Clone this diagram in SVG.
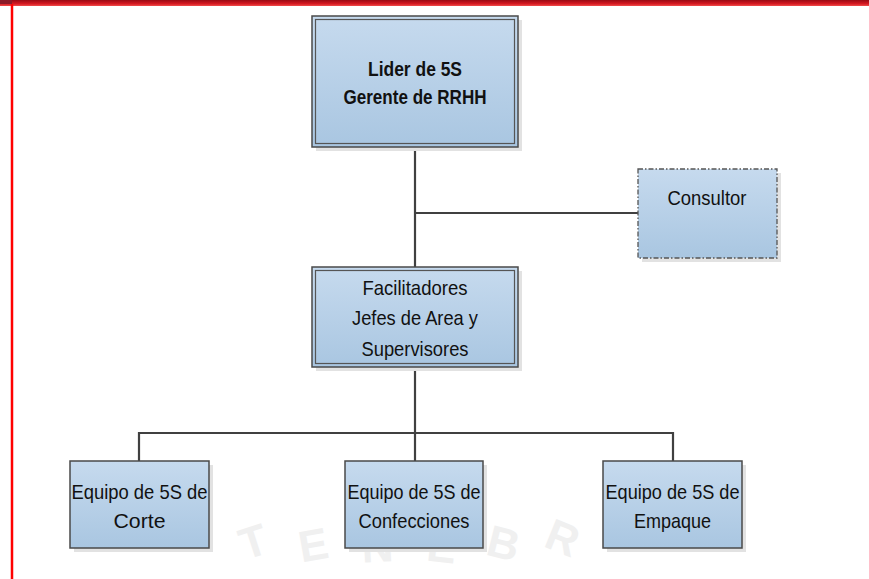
<svg xmlns="http://www.w3.org/2000/svg" width="869" height="579" viewBox="0 0 869 579">
<defs>
<linearGradient id="fillg" x1="0" y1="0" x2="0" y2="1">
<stop offset="0" stop-color="#c6daee"/>
<stop offset="1" stop-color="#a9c6e1"/>
</linearGradient>
<linearGradient id="band" x1="0" y1="0" x2="0" y2="1">
<stop offset="0" stop-color="#9a0a14"/>
<stop offset="0.6" stop-color="#d41820"/>
<stop offset="1" stop-color="#f04a4a"/>
</linearGradient>
<style>
.box{fill:url(#fillg);stroke:#4a4a4a;stroke-width:1.5}
.inner{fill:none;stroke:#555;stroke-width:1.2}
.shadow{fill:#e2e2e2}
.dash{fill:url(#fillg);stroke:#555;stroke-width:1.3;stroke-dasharray:5 2 1.5 2}
.con{fill:none;stroke:#404040;stroke-width:2.2}
.t{font-family:"Liberation Sans",Arial,sans-serif;font-size:21px;fill:#111;text-anchor:middle}
.b{font-weight:bold;font-size:20px}
.wm{font-family:"Liberation Sans",Arial,sans-serif;font-size:44px;font-weight:bold;fill:#f0f0f0;text-anchor:middle}
</style>
</defs>
<rect x="0" y="0" width="869" height="579" fill="#ffffff"/>
<rect x="0" y="0" width="869" height="6" fill="url(#band)"/>
<rect x="0" y="0" width="12" height="4" fill="#8c1a28"/>
<line x1="12" y1="4" x2="12" y2="579" stroke="#ff0000" stroke-width="2.5"/>

<g id="watermark">
<text class="wm" transform="translate(258,556) rotate(-18)">T</text>
<text class="wm" transform="translate(316,560) rotate(-10)">E</text>
<text class="wm" transform="translate(378,562) rotate(-3)">N</text>
<text class="wm" transform="translate(440,562) rotate(6)">E</text>
<text class="wm" transform="translate(500,558) rotate(14)">B</text>
<text class="wm" transform="translate(557,552) rotate(22)">R</text>
</g>

<g id="connectors">
<line class="con" x1="415" y1="147" x2="415" y2="267"/>
<line class="con" x1="415" y1="213" x2="638" y2="213"/>
<line class="con" x1="415" y1="367" x2="415" y2="461"/>
<polyline class="con" points="139,461 139,433 673,433 673,461"/>
</g>

<g id="lider">
<rect class="shadow" x="316" y="20" width="206" height="131"/>
<rect class="box" x="312" y="16" width="206" height="131"/>
<rect class="inner" x="315.5" y="19.5" width="199" height="124"/>
<text class="t b" x="415" y="76" textLength="94" lengthAdjust="spacingAndGlyphs">Lider de 5S</text>
<text class="t b" x="415" y="104" textLength="143" lengthAdjust="spacingAndGlyphs">Gerente de RRHH</text>
</g>

<g id="consultor">
<rect class="shadow" x="642" y="173" width="139" height="89"/>
<rect class="dash" x="638" y="169" width="139" height="89"/>
<text class="t" x="707" y="205" textLength="79" lengthAdjust="spacingAndGlyphs">Consultor</text>
</g>

<g id="facilitadores">
<rect class="shadow" x="316" y="271" width="206" height="100"/>
<rect class="box" x="312" y="267" width="206" height="100"/>
<rect class="inner" x="315.5" y="270.5" width="199" height="93"/>
<text class="t" x="415" y="295" textLength="105" lengthAdjust="spacingAndGlyphs">Facilitadores</text>
<text class="t" x="415" y="325" textLength="126" lengthAdjust="spacingAndGlyphs">Jefes de Area y</text>
<text class="t" x="415" y="356" textLength="107" lengthAdjust="spacingAndGlyphs">Supervisores</text>
</g>

<g id="corte">
<rect class="shadow" x="74" y="465" width="139" height="87"/>
<rect class="box" x="70" y="461" width="139" height="87"/>
<text class="t" x="139.5" y="499" textLength="136" lengthAdjust="spacingAndGlyphs">Equipo de 5S de</text>
<text class="t" x="139.5" y="528" textLength="52" lengthAdjust="spacingAndGlyphs">Corte</text>
</g>

<g id="confecciones">
<rect class="shadow" x="349" y="465" width="138" height="87"/>
<rect class="box" x="345" y="461" width="138" height="87"/>
<text class="t" x="414" y="499" textLength="133" lengthAdjust="spacingAndGlyphs">Equipo de 5S de</text>
<text class="t" x="414" y="528" textLength="111" lengthAdjust="spacingAndGlyphs">Confecciones</text>
</g>

<g id="empaque">
<rect class="shadow" x="607" y="465" width="139" height="87"/>
<rect class="box" x="603" y="461" width="139" height="87"/>
<text class="t" x="672.5" y="499" textLength="134" lengthAdjust="spacingAndGlyphs">Equipo de 5S de</text>
<text class="t" x="672.5" y="528" textLength="77" lengthAdjust="spacingAndGlyphs">Empaque</text>
</g>
</svg>
